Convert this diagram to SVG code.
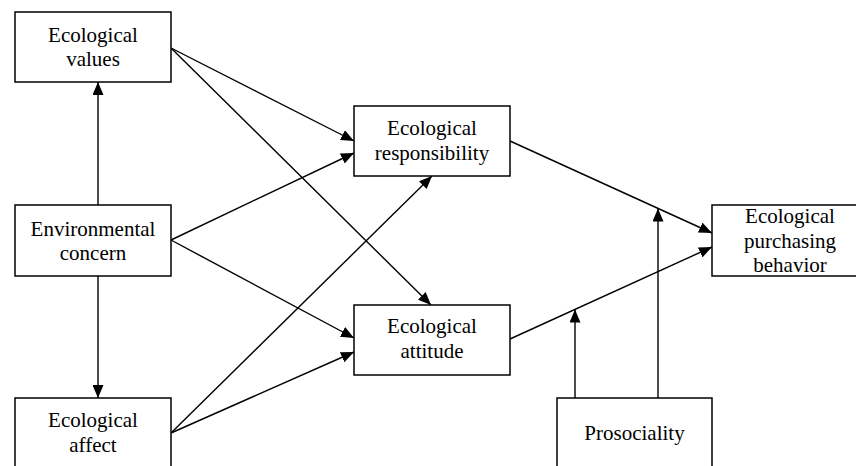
<svg xmlns="http://www.w3.org/2000/svg" width="856" height="466" viewBox="0 0 856 466">
<style>
  .box { fill: #fff; stroke: #000; stroke-width: 1.5; }
  .lbl { font-family: "Liberation Serif", "Times New Roman", serif; font-size: 21px; fill: #000; text-anchor: middle; }
  .conn line { stroke: #000; stroke-width: 1.4; fill: none; }
</style>
<defs>
  <marker id="arr" viewBox="0 0 13 11" refX="13" refY="5.5" markerWidth="13" markerHeight="11" markerUnits="userSpaceOnUse" orient="auto">
    <path d="M0,0 L13,5.5 L0,11 Z" fill="#000"/>
  </marker>
</defs>
<rect width="856" height="466" fill="#fff"/>
<g id="connectors" class="conn">
  <line x1="98" y1="205" x2="98" y2="82" marker-end="url(#arr)"/>
  <line x1="98" y1="276" x2="98" y2="398" marker-end="url(#arr)"/>
  <line x1="171" y1="48" x2="354" y2="141" marker-end="url(#arr)"/>
  <line x1="171" y1="48" x2="431" y2="305" marker-end="url(#arr)"/>
  <line x1="171" y1="240" x2="354" y2="153" marker-end="url(#arr)"/>
  <line x1="171" y1="240" x2="354" y2="338" marker-end="url(#arr)"/>
  <line x1="171" y1="433" x2="432" y2="176" marker-end="url(#arr)"/>
  <line x1="171" y1="433" x2="354" y2="352" marker-end="url(#arr)"/>
  <line x1="510" y1="141" x2="712" y2="233" marker-end="url(#arr)"/>
  <line x1="510" y1="339" x2="712" y2="247" marker-end="url(#arr)"/>
  <line x1="575" y1="398" x2="575" y2="309.5" marker-end="url(#arr)"/>
  <line x1="658" y1="398" x2="658" y2="208.5" marker-end="url(#arr)"/>
</g>
<g id="ecological-values">
  <rect class="box" x="15" y="12" width="156" height="70"/>
  <text class="lbl" x="93" y="42">Ecological</text>
  <text class="lbl" x="93" y="66">values</text>
</g>
<g id="environmental-concern">
  <rect class="box" x="15" y="205" width="156" height="71"/>
  <text class="lbl" x="93" y="236">Environmental</text>
  <text class="lbl" x="93" y="260">concern</text>
</g>
<g id="ecological-affect">
  <rect class="box" x="15" y="398" width="156" height="72"/>
  <text class="lbl" x="93" y="427">Ecological</text>
  <text class="lbl" x="93" y="452">affect</text>
</g>
<g id="ecological-responsibility">
  <rect class="box" x="354" y="106" width="156" height="70"/>
  <text class="lbl" x="432" y="135">Ecological</text>
  <text class="lbl" x="432" y="160">responsibility</text>
</g>
<g id="ecological-attitude">
  <rect class="box" x="354" y="305" width="156" height="70"/>
  <text class="lbl" x="432" y="333">Ecological</text>
  <text class="lbl" x="432" y="358">attitude</text>
</g>
<g id="ecological-purchasing-behavior">
  <rect class="box" x="712" y="205" width="156" height="71"/>
  <text class="lbl" x="790" y="223">Ecological</text>
  <text class="lbl" x="790" y="247.5">purchasing</text>
  <text class="lbl" x="790" y="272">behavior</text>
</g>
<g id="prosociality">
  <rect class="box" x="557" y="398" width="155" height="72"/>
  <text class="lbl" x="634.5" y="440">Prosociality</text>
</g>
</svg>
